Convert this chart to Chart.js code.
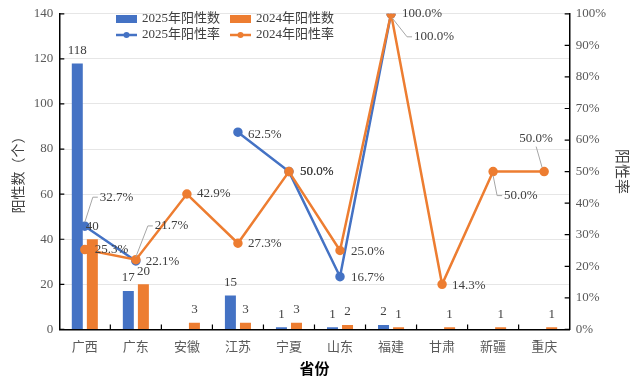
<!DOCTYPE html>
<html>
<head>
<meta charset="utf-8">
<script src="https://cdn.jsdelivr.net/npm/chart.js@4.4.1/dist/chart.umd.min.js"></script>
<style>
  html, body { margin: 0; padding: 0; background: #fff; }
  #wrap { width: 639px; height: 385px; }
</style>
</head>
<body>
<div id="wrap"><canvas id="posChart" width="639" height="385"></canvas></div>
<script>
  // data
  const provinces = ['广西', '广东', '安徽', '江苏', '宁夏', '山东', '福建', '甘肃', '新疆', '重庆'];
  const count2025 = [118, 17, null, 15, 1, 1, 2, null, null, null];
  const count2024 = [40, 20, 3, 3, 3, 2, 1, 1, 1, 1];
  const rate2025 = [32.7, 21.7, null, 62.5, 50.0, 16.7, 100.0, null, null, null];
  const rate2024 = [25.3, 22.1, 42.9, 27.3, 50.0, 25.0, 100.0, 14.3, 50.0, 50.0];

  const BLUE = '#4472C4';
  const ORANGE = '#ED7D31';
  const SERIF = "'Liberation Serif', 'Noto Sans CJK SC', serif";
  const TEXT = '#404040';

  // where each rate label sits relative to its point (left edge, middle)
  const rate2025Place = [
    { dx: 15, dy: -29, leader: true }, { dx: 19, dy: -35, leader: true }, null,
    { dx: 10, dy: 2 }, { dx: 11, dy: 0 }, { dx: 11, dy: 1 },
    { dx: 23, dy: 23, leader: true }, null, null, null
  ];
  const rate2024Place = [
    { dx: 10, dy: 0 }, { dx: 10, dy: 2 }, { dx: 10, dy: 0 }, { dx: 10, dy: 0 },
    { dx: 11, dy: 0 }, { dx: 11, dy: 1 }, { dx: 11, dy: 0 }, { dx: 10, dy: 1 },
    { dx: 11, dy: 24, leader: true }, { dx: -25, dy: -33, leader: true }
  ];

  const labelPlugin = {
    id: 'labels',
    afterDatasetsDraw(chart) {
      const c = chart.ctx;
      c.save();
      c.font = '13px ' + SERIF;
      c.fillStyle = TEXT;
      c.textBaseline = 'middle';
      chart.data.datasets.forEach((ds, i) => {
        const meta = chart.getDatasetMeta(i);
        meta.data.forEach((el, j) => {
          const v = ds.data[j];
          if (v == null) return;
          if (ds.type === 'bar') {
            c.textAlign = 'center';
            c.fillText(String(v), el.x, el.y - 13);
            return;
          }
          const p = ds.place[j];
          if (!p) return;
          const txt = v.toFixed(1) + '%';
          const w = c.measureText(txt).width;
          const lx = el.x + p.dx, ly = el.y + p.dy;
          c.textAlign = 'left';
          c.fillText(txt, lx, ly);
          if (p.leader) {
            c.strokeStyle = '#a6a6a6';
            c.lineWidth = 1;
            c.beginPath();
            if (ly + 7 < el.y && lx < el.x && lx + w > el.x) {
              // label above the point
              c.moveTo(el.x - 8, ly + 8);
              c.lineTo(el.x - 2, el.y - 4);
            } else {
              c.moveTo(lx - 2, ly);
              c.lineTo(lx - 7, ly);
              const sy = ly < el.y ? el.y - 4 : el.y + 4;
              c.lineTo(el.x + (lx > el.x + 20 ? 1 : 0), sy);
            }
            c.stroke();
          }
        });
      });
      c.restore();
    }
  };

  const frame = {
    id: 'frame',
    afterDraw(chart) {
      const c = chart.ctx;
      const a = chart.chartArea;
      const sy = chart.scales.y, sr = chart.scales.y1;
      c.save();
      c.strokeStyle = '#000';
      c.lineWidth = 1.2;
      c.beginPath();
      sy.ticks.forEach(t => { const y = sy.getPixelForValue(t.value); c.moveTo(a.left, y); c.lineTo(a.left + 5, y); });
      sr.ticks.forEach(t => { const y = sr.getPixelForValue(t.value); c.moveTo(a.right - 5, y); c.lineTo(a.right, y); });
      const step = (a.right - a.left) / provinces.length;
      for (let k = 1; k < provinces.length; k++) {
        const x = a.left + k * step;
        c.moveTo(x, a.bottom); c.lineTo(x, a.bottom - 5);
      }
      c.stroke();

      // legend laid over the top of the plot
      c.font = '13px ' + SERIF;
      c.textBaseline = 'middle';
      c.textAlign = 'left';
      const items = [
        { t: '2025年阳性数', col: BLUE, bar: true, x: 116, y: 19 },
        { t: '2024年阳性数', col: ORANGE, bar: true, x: 230, y: 19 },
        { t: '2025年阳性率', col: BLUE, bar: false, x: 116, y: 35 },
        { t: '2024年阳性率', col: ORANGE, bar: false, x: 230, y: 35 }
      ];
      items.forEach(it => {
        c.fillStyle = it.col;
        c.strokeStyle = it.col;
        if (it.bar) {
          c.fillRect(it.x, it.y - 4, 21, 8);
        } else {
          c.lineWidth = 2.5;
          c.beginPath(); c.moveTo(it.x, it.y); c.lineTo(it.x + 21, it.y); c.stroke();
          c.beginPath(); c.arc(it.x + 10.5, it.y, 3, 0, Math.PI * 2); c.fill();
        }
        c.fillStyle = TEXT;
        c.fillText(it.t, it.x + 26, it.y);
      });
      c.restore();
    }
  };

  const ctx = document.getElementById('posChart').getContext('2d');
  const posChart = new Chart(ctx, {
    data: {
      labels: provinces,
      datasets: [
        { type: 'bar', label: '2025年阳性数', data: count2025, backgroundColor: BLUE, yAxisID: 'y', order: 3,
          categoryPercentage: 0.59, barPercentage: 0.73 },
        { type: 'bar', label: '2024年阳性数', data: count2024, backgroundColor: ORANGE, yAxisID: 'y', order: 3,
          categoryPercentage: 0.59, barPercentage: 0.73 },
        { type: 'line', label: '2025年阳性率', data: rate2025, place: rate2025Place, yAxisID: 'y1', order: 2,
          borderColor: BLUE, backgroundColor: BLUE, borderWidth: 2.5, pointRadius: 3.5, pointHoverRadius: 3.5,
          tension: 0, spanGaps: false },
        { type: 'line', label: '2024年阳性率', data: rate2024, place: rate2024Place, yAxisID: 'y1', order: 1,
          borderColor: ORANGE, backgroundColor: ORANGE, borderWidth: 2.5, pointRadius: 3.5, pointHoverRadius: 3.5,
          tension: 0 }
      ]
    },
    options: {
      responsive: false,
      animation: false,
      layout: { padding: { top: 7, left: 11, right: 9, bottom: 6 } },
      plugins: { legend: { display: false }, tooltip: { enabled: false } },
      scales: {
        x: {
          offset: true,
          grid: { display: false },
          border: { color: '#000', width: 1.5 },
          ticks: { color: '#595959', font: { size: 13, family: SERIF }, padding: 2 },
          title: { display: true, text: '省份', color: '#000', font: { size: 15, weight: 'bold', family: SERIF }, padding: { top: 4, bottom: 0 } }
        },
        y: {
          position: 'left',
          min: 0, max: 140,
          ticks: { stepSize: 20, color: '#595959', font: { size: 13, family: SERIF }, padding: 6 },
          grid: { color: '#e6e6e6', drawTicks: false },
          border: { color: '#000', width: 1.5 },
          title: { display: true, text: '阳性数（个）', color: '#404040', font: { size: 14, family: SERIF }, padding: { top: 0, bottom: 0 } }
        },
        y1: {
          position: 'right',
          min: 0, max: 100,
          ticks: { stepSize: 10, color: '#595959', font: { size: 13, family: SERIF }, padding: 6,
            callback: v => v + '%' },
          grid: { drawOnChartArea: false, drawTicks: false },
          border: { color: '#000', width: 1.5 },
          title: { display: true, text: '阳性率', color: '#404040', font: { size: 15, family: SERIF }, padding: { top: 0, bottom: 0 } }
        }
      }
    },
    plugins: [labelPlugin, frame]
  });
</script>
</body>
</html>
